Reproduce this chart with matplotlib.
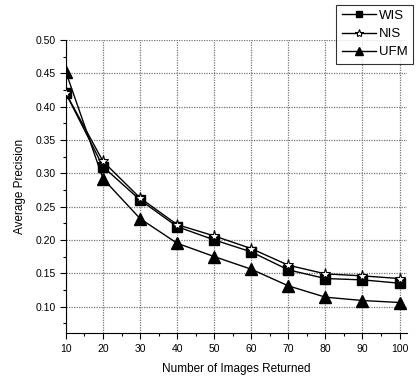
import matplotlib
matplotlib.use("Agg")
import matplotlib.pyplot as plt
from matplotlib.ticker import MultipleLocator

plt.rcParams['font.family'] = ['Liberation Sans', 'DejaVu Sans']

x = [10, 20, 30, 40, 50, 60, 70, 80, 90, 100]
wis = [0.420, 0.310, 0.260, 0.220, 0.200, 0.182, 0.155, 0.142, 0.140, 0.135]
nis = [0.420, 0.318, 0.263, 0.223, 0.206, 0.187, 0.162, 0.149, 0.146, 0.142]
ufm = [0.452, 0.292, 0.232, 0.195, 0.175, 0.156, 0.131, 0.114, 0.109, 0.106]

fig = plt.figure(figsize=(4.2, 3.79), dpi=100)
ax = fig.add_axes([0.157, 0.121, 0.812, 0.773])

ax.plot(x, wis, '-', color='black', lw=1, marker='s', ms=6.5, mfc='black', mec='black', label='WIS', zorder=3)
ax.plot(x, nis, '-', color='black', lw=1, marker='*', ms=8, mfc='white', mec='black', mew=0.8, label='NIS', zorder=4)
ax.plot(x, ufm, '-', color='black', lw=1, marker='^', ms=8, mfc='black', mec='black', label='UFM', zorder=3)

ax.set_xlim(10, 102)
ax.set_ylim(0.06, 0.50)
ax.xaxis.set_major_locator(MultipleLocator(10))
ax.xaxis.set_minor_locator(MultipleLocator(5))
ax.yaxis.set_major_locator(MultipleLocator(0.05))
ax.yaxis.set_minor_locator(MultipleLocator(0.025))
ax.yaxis.set_major_formatter(plt.FuncFormatter(lambda v, p: f"{v:.2f}"))

ax.grid(True, which='major', linestyle=(0, (1, 1)), color='#777777', lw=0.9)
for s in ['top', 'right']:
    ax.spines[s].set_visible(False)
ax.tick_params(which='major', direction='out', length=4, width=0.8, labelsize=7.5)
ax.tick_params(which='minor', direction='out', length=2, width=0.8)

ax.set_xlabel('Number of Images Returned', fontsize=8.5, labelpad=7)
ax.set_ylabel('Average Precision', fontsize=8.5, labelpad=7)

leg = fig.legend(loc='upper right', bbox_to_anchor=(0.984, 0.988), fontsize=9.5,
                 frameon=True, fancybox=False, edgecolor='black', handlelength=2.6,
                 borderpad=0.4, labelspacing=0.45, handletextpad=0.25, borderaxespad=0,
                 markerscale=0.75)
leg.get_frame().set_linewidth(0.8)

fig.savefig('out.png', dpi=100)
